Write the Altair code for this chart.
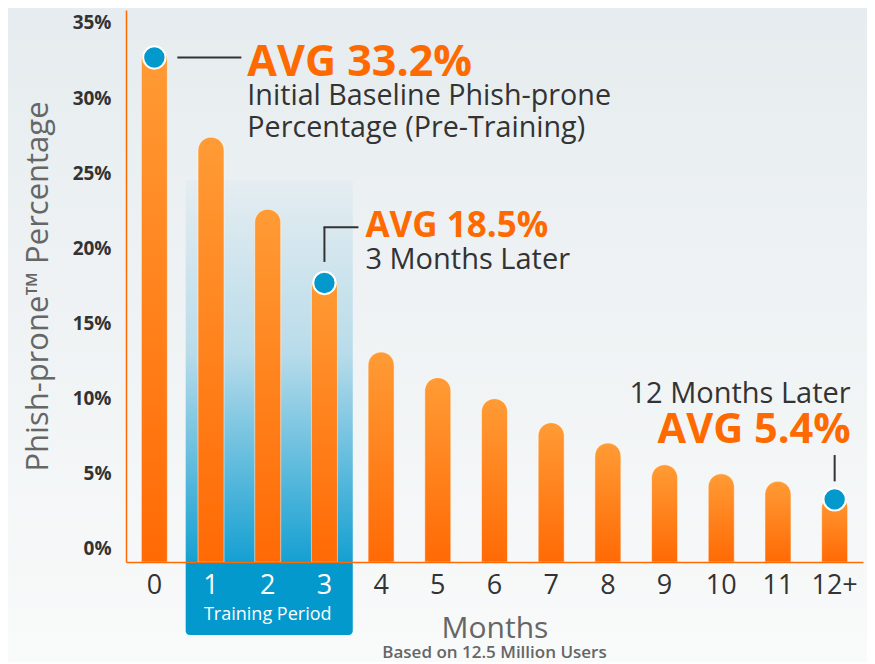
import altair as alt
import pandas as pd

# ---- data ----
months = ["0", "1", "2", "3", "4", "5", "6", "7", "8", "9", "10", "11", "12+"]
rates = [33.4, 27.4, 22.6, 18.2, 13.1, 11.4, 10.0, 8.4, 7.05, 5.6, 5.0, 4.5, 3.6]
marker_months = ["0", "3", "12+"]
marker_rates = [32.7, 17.7, 3.3]
y_ticks = [0, 5, 10, 15, 20, 25, 30, 35]
training_months = ["1", "3"]

W, H = 737, 552
Y_MIN, Y_MAX = -0.865, 35.86
FONT = "Open Sans"
ORANGE = "#ff6a00"
BLUE = "#0399cc"
DARK = "#333333"

bars_df = pd.DataFrame({"month": months, "rate": rates})
mark_df = pd.DataFrame({"month": marker_months, "rate": marker_rates})
train_df = pd.DataFrame({"month": [training_months[0]], "end": [training_months[1]], "rate": [24.55]})

xscale = alt.Scale(domain=months, paddingInner=0, paddingOuter=0)
yscale = alt.Scale(domain=[Y_MIN, Y_MAX], nice=False, zero=False)

x_axis = alt.Axis(
    title="Months", titleFont=FONT, titleFontSize=30, titleColor="#666666",
    titleFontWeight="normal", titlePadding=15, bandPosition=0.5, zindex=1,
    labelFont=FONT, labelFontSize=27, labelAngle=0, labelPadding=10, labelAlign="center",
    labelColor={"condition": {"test": "datum.value=='1'||datum.value=='2'||datum.value=='3'",
                              "value": "white"}, "value": DARK},
    domainColor=ORANGE, domainWidth=1.5, ticks=False, grid=False,
)
y_axis = alt.Axis(
    values=y_ticks, labelExpr="datum.value + '%'", zindex=1,
    title="Phish-prone™ Percentage", titleFont=FONT, titleFontSize=31,
    titleColor="#666666", titleFontWeight="normal", titlePadding=18,
    labelFont=FONT, labelFontSize=19, labelFontWeight="bold", labelColor=DARK,
    labelPadding=15, domainColor=ORANGE, domainWidth=1.5, ticks=False, grid=False,
)

X = lambda **kw: alt.X("month:O", sort=months, scale=xscale, axis=x_axis, **kw)
Y = lambda f="rate:Q": alt.Y(f, scale=yscale, axis=y_axis)

bars = alt.Chart(bars_df).mark_bar(
    size=26, cornerRadiusTopLeft=13, cornerRadiusTopRight=13,
    stroke="#ffffff", strokeOpacity=0.5, strokeWidth=1,
    color=alt.LinearGradient(gradient="linear", x1=0, x2=0, y1=0, y2=1,
                             stops=[alt.GradientStop(color="#ff9b35", offset=0),
                                    alt.GradientStop(color="#ff6a05", offset=1)]),
).encode(x=X(), y=Y(), y2=alt.datum(Y_MIN))

bg = alt.Chart(pd.DataFrame({"a": [0]})).mark_rect(
    color=alt.LinearGradient(gradient="linear", x1=0, x2=0, y1=0, y2=1,
                             stops=[alt.GradientStop(color="#e6ecef", offset=0),
                                    alt.GradientStop(color="#f9fafa", offset=1)])
).encode(x=alt.value(-118), x2=alt.value(W + 4), y=alt.value(-2), y2=alt.value(H + 100))

shade = alt.Chart(train_df).mark_rect(
    xOffset=3,
    color=alt.LinearGradient(gradient="linear", x1=0, x2=0, y1=0, y2=1,
                             stops=[alt.GradientStop(color="#e5edf1", offset=0),
                                    alt.GradientStop(color="#b9dcea", offset=0.45),
                                    alt.GradientStop(color="#15a0d2", offset=1)])
).encode(
    x=X(bandPosition=0),
    x2=alt.X2("end", bandPosition=1),
    y=Y(),
    y2=alt.datum(Y_MIN),
)

box = alt.Chart(train_df).mark_rect(
    xOffset=3, color=BLUE, cornerRadiusBottomLeft=4, cornerRadiusBottomRight=4,
).encode(
    x=X(bandPosition=0),
    x2=alt.X2("end", bandPosition=1),
    y=alt.value(H + 1), y2=alt.value(H + 73),
)

box_text = alt.Chart(pd.DataFrame({"month": ["2"]})).mark_text(
    text="Training Period", font=FONT, fontSize=18, color="white", baseline="middle",
).encode(x=X(), y=alt.value(H + 53))

# connector lines
line0 = alt.Chart(pd.DataFrame({"month": ["0"], "rate": [32.7]})).mark_rule(
    xOffset=23, x2Offset=87, color=DARK, strokeWidth=2
).encode(x=X(), x2=alt.X2("month"), y=Y())

line3v = alt.Chart(pd.DataFrame({"month": ["3"], "rate": [19.1], "b": [21.4]})).mark_rule(
    color=DARK, strokeWidth=2
).encode(x=X(), y=Y(), y2="b:Q")

line3h = alt.Chart(pd.DataFrame({"month": ["3"], "rate": [21.4]})).mark_rule(
    xOffset=-1, x2Offset=34, color=DARK, strokeWidth=2
).encode(x=X(), x2=alt.X2("month"), y=Y())

line12 = alt.Chart(pd.DataFrame({"month": ["12+"], "rate": [4.5], "b": [6.25]})).mark_rule(
    color=DARK, strokeWidth=2
).encode(x=X(), y=Y(), y2="b:Q")

markers = alt.Chart(mark_df).mark_point(
    shape="circle", filled=True, size=500, fill=BLUE, stroke="white", strokeWidth=2, opacity=1,
).encode(x=X(), y=Y())


def label(month, y, text, dx, size, color, weight="normal", align="left"):
    return alt.Chart(pd.DataFrame({"month": [month], "rate": [y]})).mark_text(
        text=text, dx=dx, align=align, baseline="alphabetic", font=FONT,
        fontSize=size, fontWeight=weight, color=color,
    ).encode(x=X(), y=Y())


texts = [
    label("0", 31.5, "AVG 33.2%", 93, 43, ORANGE, "bold"),
    label("0", 29.54, "Initial Baseline Phish-prone", 93, 28.7, DARK),
    label("0", 27.4, "Percentage (Pre-Training)", 93, 28.7, DARK),
    label("3", 20.76, "AVG 18.5%", 41, 35, ORANGE, "bold"),
    label("3", 18.63, "3 Months Later", 41, 29, DARK),
    label("12+", 9.71, "12 Months Later", 16, 29, DARK, align="right"),
    label("12+", 7.05, "AVG 5.4%", 16, 41.5, ORANGE, "bold", align="right"),
]

footer = alt.Chart(pd.DataFrame({"a": [0]})).mark_text(
    text="Based on 12.5 Million Users", font=FONT, fontSize=17, fontWeight=600,
    color="#666666", baseline="alphabetic",
).encode(x=alt.value(W / 2), y=alt.value(H + 96))

chart = alt.layer(
    bg, shade, box, bars, box_text, line0, line3v, line3h, line12, markers, *texts, footer
).properties(
    width=W, height=H,
    autosize=alt.AutoSizeParams(type="none"),
    padding={"left": 118, "top": 2, "right": 4, "bottom": 100},
    background="#f4f6f7",
).configure_view(strokeWidth=0)

chart.save("out.html", embed_options={"renderer": "svg", "actions": False})
